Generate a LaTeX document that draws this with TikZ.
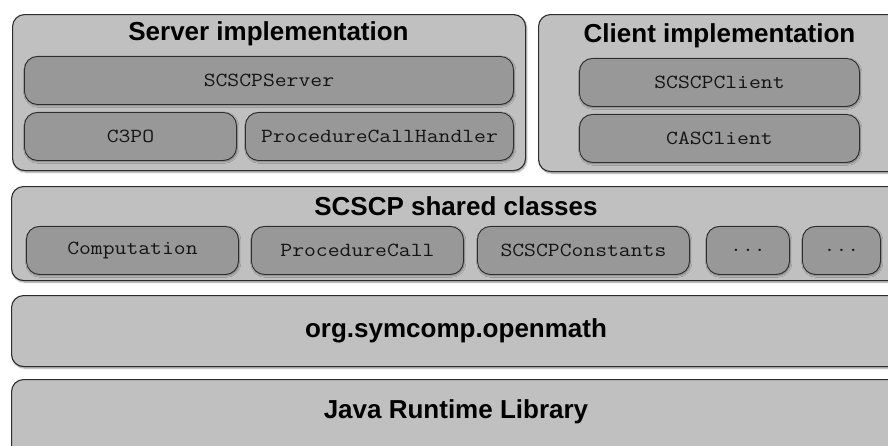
\documentclass[tikz,border=0pt]{standalone}
\usepackage{fontspec}
\newfontfamily\hv{Liberation Sans}
\newfontfamily\cour{Latin Modern Mono}[FakeStretch=1.15]
\usetikzlibrary{shadows.blur}
\definecolor{boxlight}{RGB}{192,192,192}
\definecolor{boxdark}{RGB}{152,152,152}
\definecolor{edge}{RGB}{45,45,45}
\tikzset{
  outerbox/.style={draw=edge, line width=1.1pt, fill=boxlight, rounded corners=12pt,
    inner sep=0pt, anchor=north west,
    blur shadow={shadow xshift=1pt, shadow yshift=-1.5pt, shadow blur steps=6, shadow opacity=45}},
  innerbox/.style={draw=edge, line width=0.9pt, fill=boxdark, rounded corners=13pt,
    inner sep=0pt, anchor=north west, minimum height=48pt,
    blur shadow={shadow xshift=0.8pt, shadow yshift=-1.2pt, shadow blur steps=5, shadow opacity=40}},
  ttl/.style={font=\hv\bfseries\fontsize{26}{26}\selectfont, inner sep=0pt},
  mono/.style={font=\cour\fontsize{20}{20}\selectfont, inner sep=0pt, text=black!92}
}
\begin{document}
\begin{tikzpicture}[x=1pt, y=-1pt]
\useasboundingbox (0,0) rectangle (888,445);
\clip (0,0) rectangle (888,445);
% outer boxes
\node[outerbox, minimum width=513pt, minimum height=156pt] (server) at (12,14) {};
\node[outerbox, minimum width=363pt, minimum height=157pt] (client) at (538,14) {};
\node[outerbox, minimum width=890pt, minimum height=94pt] (shared) at (11,186) {};
\node[outerbox, minimum width=890pt, minimum height=71pt] (omath) at (11,295) {};
\node[outerbox, minimum width=890pt, minimum height=90pt] (jrl) at (11,379) {};
% inner boxes
\node[innerbox, minimum width=489pt] (srv) at (24,56) {};
\node[innerbox, minimum width=212pt] (c3po) at (24,112) {};
\node[innerbox, minimum width=268pt] (pch) at (245,112) {};
\node[innerbox, minimum width=280pt] (cli) at (579,58) {};
\node[innerbox, minimum width=280pt] (cas) at (579,114) {};
\node[innerbox, minimum width=212pt] (comp) at (26,226) {};
\node[innerbox, minimum width=212pt] (pc) at (251,226) {};
\node[innerbox, minimum width=212pt] (const) at (477,226) {};
\node[innerbox, minimum width=83pt] (dots1) at (706,226) {};
\node[innerbox, minimum width=78pt] (dots2) at (802,226) {};
% titles
\node[ttl] (tserver) at (268.5,34) {Server implementation};
\node[ttl] (tclient) at (719.5,36) {Client implementation};
\node[ttl] (tshared) at (456,206) {SCSCP shared classes};
\node[ttl] (tomath) at (456,330.5) {org.symcomp.openmath};
\node[ttl] (tjrl) at (456,412) {Java Runtime Library};
% class labels
\node[mono] (lsrv) at (srv.center) {SCSCPServer};
\node[mono] (lc3po) at (c3po.center) {C3PO};
\node[mono] (lpch) at (pch.center) {ProcedureCallHandler};
\node[mono] (lcli) at (cli.center) {SCSCPClient};
\node[mono] (lcas) at (cas.center) {CASClient};
\node[mono] (lcomp) at (comp.center) {Computation};
\node[mono] (lpc) at (pc.center) {ProcedureCall};
\node[mono] (lconst) at (const.center) {SCSCPConstants};
\node[mono] (ld1) at (dots1.center) {...};
\node[mono] (ld2) at (dots2.center) {...};
\end{tikzpicture}
\end{document}
